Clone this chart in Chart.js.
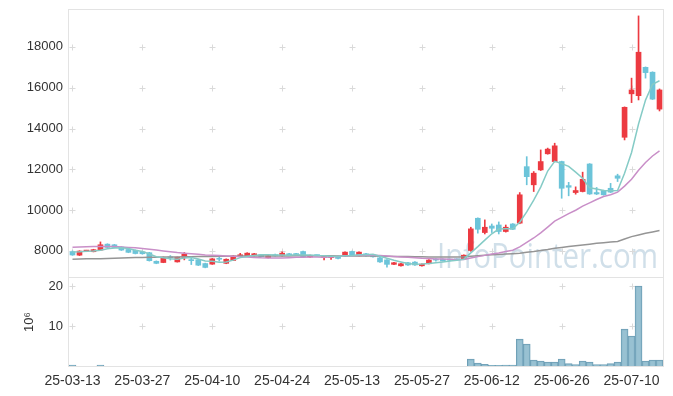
<!DOCTYPE html>
<html>
<head>
<meta charset="utf-8">
<script src="https://cdn.jsdelivr.net/npm/chart.js@4.4.1/dist/chart.umd.min.js"></script>
<style>
  html, body { margin: 0; padding: 0; background: #fff; }
  #wrap { position: relative; width: 673px; height: 396px; overflow: hidden; }
  #priceChart { position: absolute; left: 0; top: 0; }
  #volumeChart { position: absolute; left: 0; top: 270px; }
</style>
</head>
<body>
<div id="wrap">
  <canvas id="priceChart" width="673" height="278"></canvas>
  <canvas id="volumeChart" width="673" height="126"></canvas>
</div>
<script>
// Trading days
const dates = [
  '25-03-13','25-03-14','25-03-17','25-03-18','25-03-19','25-03-20','25-03-21','25-03-24','25-03-25','25-03-26',
  '25-03-27','25-03-28','25-03-31','25-04-01','25-04-02','25-04-03','25-04-04','25-04-07','25-04-08','25-04-09',
  '25-04-10','25-04-11','25-04-14','25-04-15','25-04-16','25-04-17','25-04-18','25-04-21','25-04-22','25-04-23',
  '25-04-24','25-04-25','25-04-28','25-04-29','25-04-30','25-05-02','25-05-07','25-05-08','25-05-09','25-05-12',
  '25-05-13','25-05-14','25-05-15','25-05-16','25-05-19','25-05-20','25-05-21','25-05-22','25-05-23','25-05-26',
  '25-05-27','25-05-28','25-05-29','25-05-30','25-06-02','25-06-04','25-06-05','25-06-09','25-06-10','25-06-11',
  '25-06-12','25-06-13','25-06-16','25-06-17','25-06-18','25-06-19','25-06-20','25-06-23','25-06-24','25-06-25',
  '25-06-26','25-06-27','25-06-30','25-07-01','25-07-02','25-07-03','25-07-04','25-07-07','25-07-08','25-07-09',
  '25-07-10','25-07-11','25-07-14','25-07-15','25-07-16'
];

// OHLC
const opens = [
  7960, 7790, 7990, 7960, 8040, 8330, 8300, 8190, 8070, 8030,
  7940, 7910, 7490, 7430, 7670, 7460, 7680, 7530, 7560, 7380,
  7350, 7600, 7390, 7530, 7730, 7730, 7760, 7810, 7670, 7810,
  7760, 7860, 7830, 7970, 7700, 7780, 7680, 7670, 7730, 7740,
  7970, 7760, 7860, 7790, 7660, 7560, 7340, 7270, 7420, 7450,
  7270, 7370, 7560, 7590, 7560, 7590, 7610, 8020, 9600, 8900,
  9220, 9270, 8950, 9320, 9360, 12130, 11240, 11970, 12760, 12380,
  12380, 11200, 10860, 10910, 12260, 10860, 10960, 11070, 11680, 13570,
  15700, 15610, 17000, 16760, 14950
];
const highs = [
  8000, 8010, 8030, 8080, 8440, 8350, 8320, 8210, 8090, 8050,
  7990, 7930, 7510, 7700, 7770, 7700, 7920, 7670, 7590, 7400,
  7630, 7740, 7610, 7770, 7880, 7910, 7880, 7830, 7780, 7840,
  7950, 7880, 7880, 7990, 7800, 7800, 7760, 7740, 7750, 7960,
  7990, 7960, 7880, 7810, 7680, 7580, 7440, 7390, 7440, 7470,
  7370, 7570, 7620, 7610, 7600, 7610, 7810, 9160, 9620, 9520,
  9320, 9420, 9270, 9340, 10860, 12620, 11890, 12950, 13040, 13280,
  12400, 11360, 11140, 11860, 12280, 11110, 10980, 11310, 11760, 15060,
  16470, 19520, 17020, 16780, 15940
];
const lows = [
  7780, 7770, 7960, 7950, 8020, 8150, 8150, 8020, 7910, 7850,
  7840, 7500, 7370, 7420, 7550, 7450, 7560, 7330, 7280, 7170,
  7340, 7500, 7370, 7520, 7710, 7720, 7740, 7700, 7650, 7740,
  7740, 7790, 7760, 7700, 7680, 7750, 7560, 7580, 7610, 7730,
  7780, 7750, 7740, 7690, 7440, 7200, 7320, 7250, 7290, 7290,
  7250, 7360, 7500, 7500, 7510, 7540, 7600, 7980, 8870, 8830,
  8900, 8830, 8920, 9040, 9330, 11240, 10910, 11940, 12740, 12360,
  10580, 10700, 10780, 10890, 10770, 10760, 10730, 10860, 11400, 13440,
  15270, 15400, 16470, 15420, 14860
];
const closes = [
  7800, 7990, 8000, 8060, 8300, 8170, 8170, 8040, 7930, 7870,
  7860, 7520, 7390, 7670, 7660, 7690, 7840, 7520, 7300, 7190,
  7610, 7590, 7590, 7750, 7810, 7890, 7860, 7720, 7760, 7760,
  7890, 7800, 7820, 7720, 7780, 7770, 7720, 7720, 7630, 7940,
  7800, 7940, 7760, 7710, 7460, 7340, 7420, 7370, 7310, 7310,
  7350, 7550, 7550, 7520, 7550, 7560, 7790, 9080, 9060, 9160,
  9110, 8950, 9160, 9060, 10750, 11640, 11810, 12380, 12990, 13150,
  11070, 11120, 10960, 11510, 10790, 10790, 10750, 10880, 11560, 15040,
  15890, 17740, 16740, 15440, 15890
];

// Moving averages
const ma5 = [
  7950, 7960, 7980, 8000, 8030, 8104, 8140, 8148, 8122, 8036,
  7974, 7844, 7714, 7662, 7620, 7586, 7650, 7676, 7602, 7508,
  7492, 7442, 7456, 7546, 7670, 7726, 7780, 7806, 7808, 7798,
  7798, 7786, 7806, 7798, 7802, 7778, 7762, 7742, 7724, 7756,
  7762, 7806, 7814, 7830, 7734, 7642, 7538, 7460, 7380, 7350,
  7352, 7378, 7414, 7456, 7504, 7546, 7594, 7900, 8208, 8530,
  8840, 9072, 9088, 9088, 9406, 9912, 10484, 11128, 11914, 12394,
  12280, 12142, 11858, 11562, 11090, 11034, 10960, 10944, 10954, 11804,
  12824, 14222, 15394, 16170, 16340
];
const ma20 = [
  8180, 8190, 8200, 8210, 8220, 8220, 8210, 8190, 8170, 8150,
  8120, 8080, 8040, 8000, 7960, 7920, 7890, 7860, 7830, 7799,
  7789, 7769, 7749, 7733, 7709, 7695, 7679, 7663, 7655, 7649,
  7651, 7665, 7686, 7689, 7695, 7699, 7693, 7703, 7719, 7757,
  7766, 7784, 7792, 7790, 7773, 7745, 7723, 7706, 7683, 7661,
  7634, 7621, 7608, 7598, 7586, 7576, 7579, 7647, 7719, 7780,
  7845, 7896, 7966, 8033, 8198, 8413, 8632, 8883, 9167, 9459,
  9645, 9824, 9994, 10194, 10356, 10517, 10665, 10755, 10880, 11174,
  11513, 11953, 12332, 12651, 12908
];
const ma60 = [
  7590, 7600, 7610, 7615, 7620, 7630, 7640, 7650, 7660, 7670,
  7680, 7685, 7690, 7695, 7700, 7705, 7710, 7715, 7720, 7725,
  7730, 7735, 7740, 7740, 7745, 7745, 7750, 7750, 7750, 7755,
  7755, 7755, 7760, 7760, 7760, 7760, 7760, 7760, 7755, 7755,
  7755, 7750, 7750, 7745, 7740, 7735, 7730, 7725, 7720, 7715,
  7710, 7705, 7705, 7705, 7705, 7705, 7710, 7735, 7760, 7785,
  7805, 7825, 7845, 7865, 7890, 7930, 7970, 8020, 8070, 8130,
  8170, 8210, 8250, 8290, 8330, 8370, 8400, 8430, 8460, 8580,
  8700, 8780, 8860, 8930, 9000
];

// Volume, in millions
const volumes = [
  0.2, 0, 0, 0, 0.2, 0, 0, 0, 0, 0,
  0, 0, 0, 0, 0, 0, 0, 0, 0, 0,
  0, 0, 0, 0, 0, 0, 0, 0, 0, 0,
  0, 0, 0, 0, 0, 0, 0, 0, 0, 0,
  0, 0, 0, 0, 0, 0, 0, 0, 0, 0,
  0, 0, 0, 0, 0, 0, 0, 1.7, 0.7, 0.4,
  0.15, 0.15, 0.2, 0.2, 6.7, 5.5, 1.5, 1.25, 1.0, 1.0,
  1.75, 0.6, 0.35, 1.25, 1.0, 0.35, 0.35, 0.6, 1.0, 9.2,
  7.5, 20.0, 1.25, 1.5, 1.5
];

const priceTicks = [8000, 10000, 12000, 14000, 16000, 18000];
const volumeTicks = [10, 20];
const dateTickIdx = [0, 10, 20, 30, 40, 50, 60, 70, 80];

const UP = '#ec3a41';
const DOWN = '#6cc4d9';

Chart.defaults.font.family = "'Liberation Sans', Arial, sans-serif";
Chart.defaults.font.size = 13;
Chart.defaults.color = '#333';

// Border box and little "+" marks at tick crossings
const crossPlugin = {
  id: 'crosses',
  beforeDatasetsDraw(chart, args, opts) {
    const { ctx, chartArea: a, scales } = chart;
    const yScale = scales[opts.yId];
    ctx.save();
    ctx.lineWidth = 1;
    ctx.strokeStyle = '#e3e3e3';
    ctx.strokeRect(a.left - 0.5, a.top - 0.5, a.right - a.left + 1, a.bottom - a.top + 1);
    ctx.strokeStyle = '#dadada';
    dateTickIdx.forEach(i => {
      const x = Math.round(scales.x.getPixelForValue(i)) + 0.5;
      yScale.ticks.forEach(t => {
        const y = Math.round(yScale.getPixelForValue(t.value)) + 0.5;
        ctx.beginPath();
        ctx.moveTo(x - 3, y); ctx.lineTo(x + 3, y);
        ctx.moveTo(x, y - 3); ctx.lineTo(x, y + 3);
        ctx.stroke();
      });
    });
    ctx.restore();
  }
};

const watermarkPlugin = {
  id: 'watermark',
  beforeDatasetsDraw(chart) {
    const ctx = chart.ctx;
    ctx.save();
    ctx.font = "35px 'Open Sans', sans-serif";
    ctx.fillStyle = 'rgba(150, 185, 206, 0.45)';
    ctx.textBaseline = 'alphabetic';
    ctx.fillText('InfoPointer.com', 437, 268, 221);
    ctx.restore();
  }
};

const candleColors = opens.map((o, i) => closes[i] >= o ? UP : DOWN);

// fixed axis width, and no extra room for the half tick labels
function fixWidth(scale) {
  scale.width = 69;
  scale.paddingTop = 0;
  scale.paddingBottom = 0;
}

// Price chart
new Chart(document.getElementById('priceChart'), {
  type: 'bar',
  data: {
    labels: dates,
    datasets: [
      {
        type: 'line', label: 'MA5', data: ma5, order: 0,
        borderColor: '#85cbc6', borderWidth: 1.5, pointRadius: 0, fill: false
      },
      {
        type: 'line', label: 'MA20', data: ma20, order: 0,
        borderColor: '#c98fc8', borderWidth: 1.5, pointRadius: 0, fill: false
      },
      {
        type: 'line', label: 'MA60', data: ma60, order: 0,
        borderColor: '#959595', borderWidth: 1.5, pointRadius: 0, fill: false
      },
      {
        label: 'wick', order: 2,
        data: highs.map((h, i) => [lows[i], h]),
        backgroundColor: candleColors, barThickness: 1, grouped: false
      },
      {
        label: 'body', order: 1,
        data: opens.map((o, i) => [Math.min(o, closes[i]), Math.max(o, closes[i])]),
        backgroundColor: candleColors, barThickness: 5, grouped: false, minBarLength: 1
      }
    ]
  },
  options: {
    responsive: false,
    animation: false,
    devicePixelRatio: 1,
    layout: { padding: { top: 10, right: 10, bottom: 1, left: 0 } },
    plugins: {
      legend: { display: false },
      tooltip: { enabled: false },
      crosses: { yId: 'y' }
    },
    scales: {
      x: { display: false },
      y: {
        min: 6720, max: 19810,
        grid: { display: false, drawTicks: false },
        border: { display: false },
        ticks: { padding: 6, callback: v => String(v) },
        afterBuildTicks: scale => { scale.ticks = priceTicks.map(v => ({ value: v })); },
        afterFit: fixWidth
      }
    }
  },
  plugins: [watermarkPlugin, crossPlugin]
});

// Volume chart
new Chart(document.getElementById('volumeChart'), {
  type: 'bar',
  data: {
    labels: dates,
    datasets: [{
      label: 'Volume',
      data: volumes,
      backgroundColor: 'rgba(141, 186, 205, 0.9)',
      borderColor: '#6e9fb6',
      borderWidth: 1,
      barPercentage: 1,
      categoryPercentage: 1
    }]
  },
  options: {
    responsive: false,
    animation: false,
    devicePixelRatio: 1,
    layout: { padding: { top: 8, right: 10, bottom: 0, left: 0 } },
    plugins: {
      legend: { display: false },
      tooltip: { enabled: false },
      crosses: { yId: 'y' }
    },
    scales: {
      x: {
        grid: { display: false, drawTicks: false },
        border: { display: false },
        ticks: { padding: 7, maxRotation: 0, autoSkip: false, font: { size: 14 } },
        afterBuildTicks: scale => { scale.ticks = dateTickIdx.map(i => ({ value: i })); },
        afterFit: scale => { scale.height = 30; }
      },
      y: {
        min: 0, max: 22,
        grid: { display: false, drawTicks: false },
        border: { display: false },
        ticks: { padding: 6 },
        title: { display: true, text: '10⁶', padding: { top: 22, bottom: 0 }, font: { size: 13 } },
        afterBuildTicks: scale => { scale.ticks = volumeTicks.map(v => ({ value: v })); },
        afterFit: fixWidth
      }
    }
  },
  plugins: [crossPlugin]
});
</script>
</body>
</html>
